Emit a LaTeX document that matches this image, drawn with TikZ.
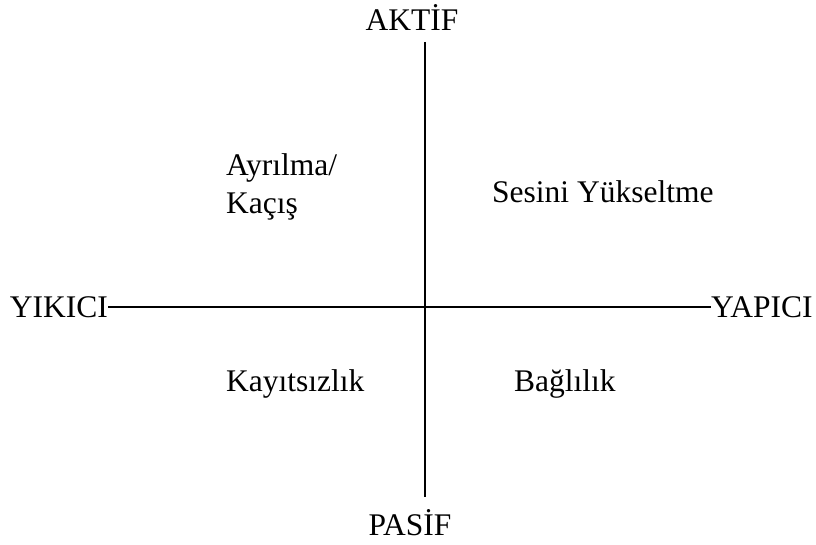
\documentclass[tikz,border=0pt]{standalone}
\usepackage{fontspec}
\setmainfont{Liberation Serif}
\usepackage{tikz}

\begin{document}
\begin{tikzpicture}
  [x=1pt,y=-1pt,every node/.style={font=\fontsize{31.5}{38}\selectfont,inner sep=0pt}]
  \useasboundingbox (0,0) rectangle (816,545);
  \node (aktif) at (412,18) {AKT\.IF};
  \node (pasif) at (410,523) {PAS\.IF};
  \node[anchor=east] (yikici) at (108,307) {YIKICI};
  \node[anchor=west] (yapici) at (711,307) {YAPICI};
  \coordinate (top) at (425,42);
  \coordinate (bot) at (425,497);

  \node[anchor=west] (ayrilma) at (226,168) {Ayrılma/};
  \node[anchor=west] (kacis) at (226,207) {Kaçış};
  \node[anchor=west] (sesini) at (492,192) {Sesini Yükseltme};
  \node[anchor=west] (kayit) at (226,384) {Kayıtsızlık};
  \node[anchor=west] (bagli) at (514,384) {Bağlılık};

  \foreach \from/\to in {top/bot,yikici/yapici}
    \draw[line width=1.3pt] (\from) -- (\to);

\end{tikzpicture}
\end{document}
